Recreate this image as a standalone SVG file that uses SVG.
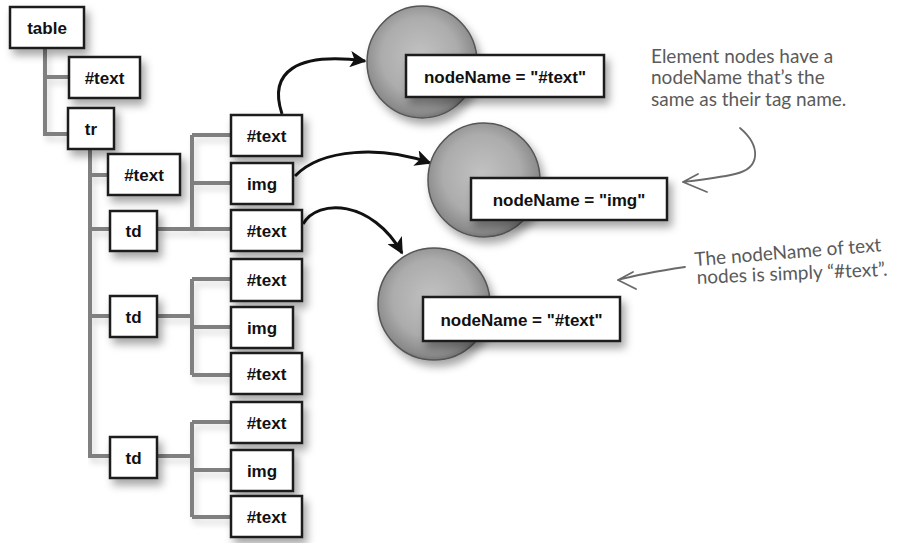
<svg xmlns="http://www.w3.org/2000/svg" width="903" height="543" viewBox="0 0 903 543">
<defs>
<filter id="sh" x="-30%" y="-30%" width="170%" height="180%">
<feDropShadow dx="4" dy="6" stdDeviation="4" flood-color="#000" flood-opacity="0.35"/>
</filter>
<filter id="lsh" x="-10%" y="-10%" width="130%" height="130%">
<feDropShadow dx="3" dy="5" stdDeviation="3" flood-color="#000" flood-opacity="0.15"/>
</filter>
<radialGradient id="ball" cx="0.48" cy="0.45" r="0.58">
<stop offset="0" stop-color="#c2c2c2"/>
<stop offset="0.6" stop-color="#acacac"/>
<stop offset="0.88" stop-color="#8a8a8a"/>
<stop offset="1" stop-color="#666"/>
</radialGradient>
<marker id="ah" viewBox="0 0 10 10" refX="9" refY="5" markerWidth="5.5" markerHeight="5.5" orient="auto" markerUnits="strokeWidth">
<path d="M0,0 L10,5 L0,10 L2.5,5 Z" fill="#111"/>
</marker>
</defs>
<style>
.box{fill:#fff;stroke:#1a1a1a;stroke-width:2.5;filter:url(#sh)}
.lbl{font-family:"Liberation Sans",Arial,sans-serif;font-weight:bold;font-size:17px;fill:#111;text-anchor:middle;dominant-baseline:central}
.tree{fill:none;stroke:#808080;stroke-width:4;filter:url(#lsh)}
.arr{fill:none;stroke:#111;stroke-width:3;marker-end:url(#ah)}
.note{font-family:"Lato","Open Sans",sans-serif;font-size:19px;fill:#5a5a5a}
.pen{fill:none;stroke:#6a6a6a;stroke-width:1.8;stroke-linecap:round;stroke-linejoin:round}
.ball{fill:url(#ball);stroke:#555;stroke-width:1.5;filter:url(#sh)}
</style>
<rect width="903" height="543" fill="#fff"/>

<g id="connectors">
<path class="tree" d="M45,48 V134 H68 M45,77 H69"/>
<path class="tree" d="M90,149 V456 H110 M90,175 H108 M90,229 H110 M90,316 H110"/>
<path class="tree" d="M157,229 H192 M192,135 V229 M192,135 H231 M192,183 H231 M192,229 H231"/>
<path class="tree" d="M157,316 H192 M192,279 V375 M192,279 H231 M192,327 H231 M192,375 H231"/>
<path class="tree" d="M157,456 H192 M192,422 V517 M192,422 H231 M192,470 H231 M192,517 H231"/>
<path class="arr" d="M282,114 C268,72 296,52 365,61"/>
<path class="arr" d="M295,176 C322,148 382,146 430,163"/>
<path class="arr" d="M303,224 C318,198 372,200 402,253"/>
</g>

<g id="table"><rect class="box" x="10" y="7" width="74" height="41"/><text class="lbl" x="47" y="28">table</text></g>
<g id="text1"><rect class="box" x="69" y="57" width="71" height="41"/><text class="lbl" x="104.5" y="78">#text</text></g>
<g id="tr"><rect class="box" x="68" y="108" width="46" height="41"/><text class="lbl" x="91" y="129">tr</text></g>
<g id="text2"><rect class="box" x="108" y="154" width="72" height="41"/><text class="lbl" x="144" y="175">#text</text></g>
<g id="td1"><rect class="box" x="110" y="211" width="47" height="40"/><text class="lbl" x="133.5" y="231">td</text></g>
<g id="td2"><rect class="box" x="110" y="296" width="47" height="41"/><text class="lbl" x="133.5" y="317">td</text></g>
<g id="td3"><rect class="box" x="110" y="437" width="47" height="41"/><text class="lbl" x="133.5" y="458">td</text></g>

<g id="td1-text1"><rect class="box" x="231" y="115" width="71" height="41"/><text class="lbl" x="266.5" y="136">#text</text></g>
<g id="td1-img"><rect class="box" x="231" y="163" width="62" height="41"/><text class="lbl" x="262" y="184">img</text></g>
<g id="td1-text2"><rect class="box" x="231" y="210" width="71" height="41"/><text class="lbl" x="266.5" y="231">#text</text></g>

<g id="td2-text1"><rect class="box" x="231" y="259" width="71" height="42"/><text class="lbl" x="266.5" y="280">#text</text></g>
<g id="td2-img"><rect class="box" x="231" y="307" width="62" height="41"/><text class="lbl" x="262" y="328">img</text></g>
<g id="td2-text2"><rect class="box" x="231" y="353" width="71" height="41"/><text class="lbl" x="266.5" y="374">#text</text></g>

<g id="td3-text1"><rect class="box" x="231" y="402" width="71" height="41"/><text class="lbl" x="266.5" y="423">#text</text></g>
<g id="td3-img"><rect class="box" x="231" y="450" width="62" height="41"/><text class="lbl" x="262" y="471">img</text></g>
<g id="td3-text2"><rect class="box" x="231" y="496" width="71" height="41"/><text class="lbl" x="266.5" y="517">#text</text></g>

<g id="obj1">
<ellipse class="ball" cx="422" cy="62" rx="55" ry="56"/>
<rect class="box" x="406" y="55" width="198" height="42"/>
<text class="lbl" x="505" y="77">nodeName = "#text"</text>
</g>
<g id="obj2">
<ellipse class="ball" cx="484" cy="180" rx="56" ry="57"/>
<rect class="box" x="471" y="178" width="196" height="42"/>
<text class="lbl" x="569" y="200">nodeName = "img"</text>
</g>
<g id="obj3">
<ellipse class="ball" cx="434" cy="304" rx="56" ry="56"/>
<rect class="box" x="423" y="297" width="197" height="44"/>
<text class="lbl" x="521.5" y="320">nodeName = "#text"</text>
</g>

<g id="note1">
<text class="note" x="651" y="63">Element nodes have a</text>
<text class="note" x="651" y="84">nodeName that’s the</text>
<text class="note" x="651" y="106">same as their tag name.</text>
<path class="pen" d="M740,128 C760,145 762,168 735,174 C718,178 700,180 683,182 M683,182 L698,174 M683,182 L707,192"/>
</g>
<g id="note2">
<text class="note" x="695" y="266" transform="rotate(-4.5 695 266)">The nodeName of text</text>
<text class="note" x="697" y="284" transform="rotate(-2.5 697 284)">nodes is simply “#text”.</text>
<path class="pen" d="M685,267 C665,270 640,274 618,280 M618,280 L633,272 M618,280 L636,289"/>
</g>
</svg>
